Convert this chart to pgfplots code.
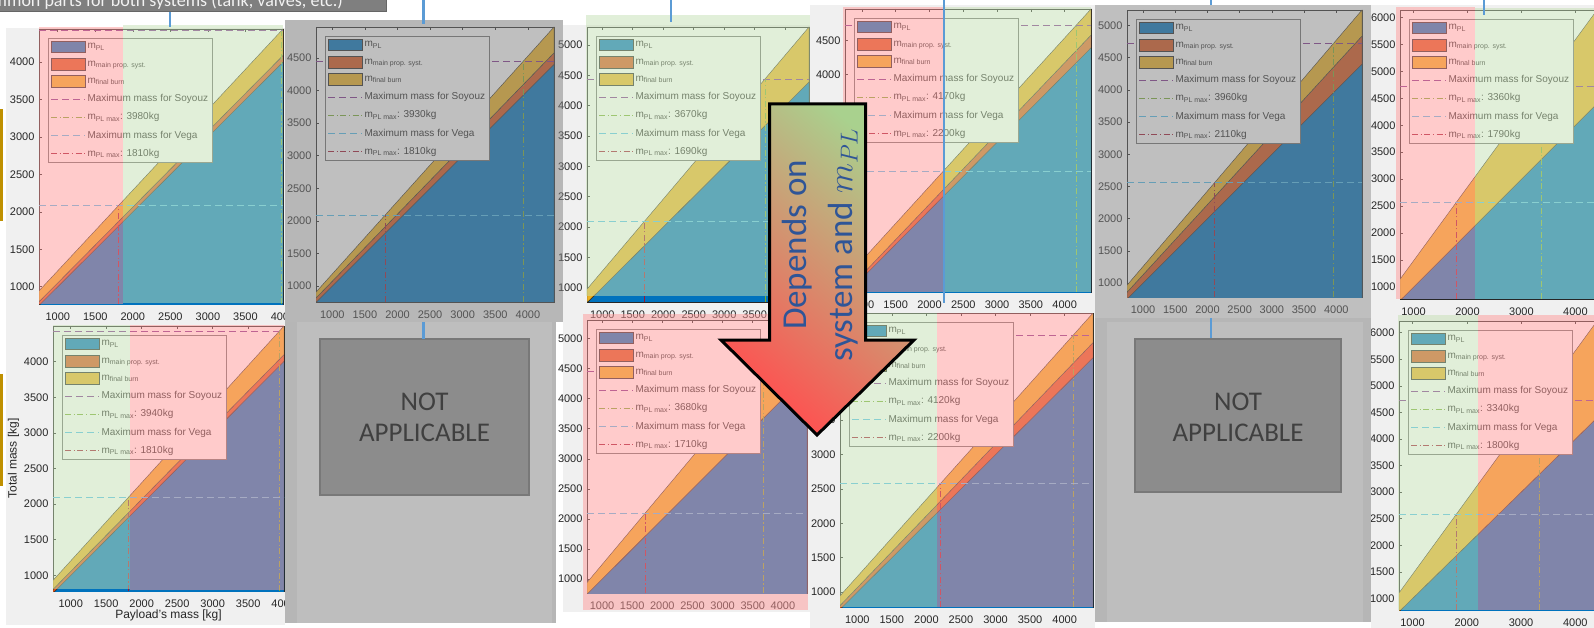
\documentclass[border=0pt]{standalone}
\usepackage{fix-cm}
\usepackage{pgfplots}
\pgfplotsset{compat=1.18}
\usepackage{fontspec}
\setmainfont{Liberation Sans}
\newfontfamily\calibri{Carlito}
\definecolor{cPL}{RGB}{0,114,189}
\definecolor{cMain}{RGB}{217,83,25}
\definecolor{cBurn}{RGB}{237,177,32}
\definecolor{cSoy}{RGB}{126,47,142}
\definecolor{cSoyM}{RGB}{119,172,48}
\definecolor{cVega}{RGB}{77,190,238}
\definecolor{cVegaM}{RGB}{162,20,47}
\definecolor{axgray}{RGB}{38,38,38}
\definecolor{leggray}{RGB}{110,110,110}
\definecolor{figbg}{RGB}{240,240,240}
\definecolor{ovPink}{RGB}{255,153,153}
\definecolor{ovGreen}{RGB}{197,224,180}
\definecolor{ovGray}{RGB}{128,128,128}
\definecolor{conn}{RGB}{91,155,213}
\definecolor{gold}{RGB}{191,144,0}
\definecolor{arrowBlue}{RGB}{47,85,151}
\definecolor{arrowG}{RGB}{169,209,142}
\definecolor{arrowR}{RGB}{255,80,80}
\definecolor{naFill}{RGB}{140,140,140}
\definecolor{naEdge}{RGB}{120,120,120}
\definecolor{naText}{RGB}{64,64,64}
\definecolor{colOuter}{RGB}{182,182,182}
\definecolor{colInner}{RGB}{190,190,190}
\definecolor{boxGray}{RGB}{127,127,127}
\pgfplotsset{
  mypatch/.style={legend image code/.code={\draw[##1] (0pt,-5.8pt) rectangle (34pt,5.8pt);}},
  myline/.style={legend image code/.code={\draw[##1] (0pt,0pt) -- (34pt,0pt);}},
  aPL/.style={fill=cPL, draw=black!85, line width=0.4pt, mypatch},
  aMain/.style={fill=cMain, draw=black!85, line width=0.4pt, mypatch},
  aBurn/.style={fill=cBurn, draw=black!85, line width=0.4pt, mypatch},
  lSoy/.style={cSoy, line width=0.7pt, dash pattern=on 7pt off 4pt, myline},
  lSoyM/.style={cSoyM, line width=0.7pt, dash pattern=on 6pt off 2.5pt on 1.2pt off 2.5pt, myline},
  lVega/.style={cVega, line width=0.7pt, dash pattern=on 7pt off 4pt, myline},
  lVegaM/.style={cVegaM, line width=0.7pt, dash pattern=on 6pt off 2.5pt on 1.2pt off 2.5pt, myline},
  panel/.style={
    scale only axis, anchor=north west,
    axis background/.style={fill=white},
    axis line style={draw=axgray, line width=0.6pt},
    tick style={draw=axgray, line width=0.6pt},
    tick align=inside, major tick length=3pt,
    ticklabel style={font=\fontsize{11}{13}\selectfont, text=axgray},
    xticklabel style={yshift=-5pt},
    yticklabel style={xshift=-1pt},
    /pgf/number format/assume math mode=true,
    /pgf/number format/1000 sep={},
    scaled ticks=false,
    legend cell align=left,
    legend style={at={(0,1)}, anchor=north west, xshift=9pt, yshift=-9pt,
      draw=leggray, fill=white, line width=0.6pt,
      font=\fontsize{10}{12}\selectfont, text=axgray, row sep=5.3pt, inner sep=2.5pt},
  }
}
\begin{document}
\begin{tikzpicture}
\useasboundingbox (0,0) rectangle (1594pt,-628pt);
\begin{scope}[x=1pt,y=-1pt]
\fill[white] (0,0) rectangle (1594,628);
\fill[figbg] (6,28) rectangle (285,625);
\fill[figbg] (563,25) rectangle (810,612);
\fill[figbg] (810,5) rectangle (1095,628);
\fill[figbg] (1371,5) rectangle (1594,628);
\end{scope}

% ---------- P1 ----------
\begin{axis}[panel, at={(39pt,-29pt)}, width=244pt, height=275pt,
  xmin=750, xmax=4000, ymin=769, ymax=4441,
  xtick={1000,1500,...,4000}, ytick={1000,1500,...,4000}]
\addplot[aPL] coordinates {(750,0) (4000,0) (4000,4000) (750,750)} -- cycle;
\addlegendentry{m\textsubscript{PL}}
\addplot[aMain] coordinates {(750,750) (4000,4000) (4000,4088) (750,799)} -- cycle;
\addlegendentry{m\textsubscript{main prop. syst.}}
\addplot[aBurn] coordinates {(750,799) (4000,4088) (4000,4441) (750,944)} -- cycle;
\addlegendentry{m\textsubscript{final burn}}
\addplot[lSoy] coordinates {(750,4420) (4000,4420)};
\addlegendentry{Maximum mass for Soyouz}
\addplot[lSoyM] coordinates {(3980,769) (3980,4420)};
\addlegendentry{m\textsubscript{PL max}: 3980kg}
\addplot[lVega] coordinates {(750,2085) (4000,2085)};
\addlegendentry{Maximum mass for Vega}
\addplot[lVegaM] coordinates {(1810,769) (1810,2085)};
\addlegendentry{m\textsubscript{PL max}: 1810kg}
\end{axis}

% ---------- P7 ----------
\begin{axis}[panel, at={(53pt,-326pt)}, width=231pt, height=265pt,
  xmin=750, xmax=4005, ymin=781, ymax=4500,
  xtick={1000,1500,...,4000}, ytick={1000,1500,...,4000},
  xlabel={Payload's mass [kg]}, ylabel={Total mass [kg]},
  label style={font=\fontsize{12}{14}\selectfont, text=axgray},
  xlabel style={yshift=4pt}, ylabel style={yshift=-2pt}]
\addplot[aPL] coordinates {(750,0) (4005,0) (4005,4005) (750,750)} -- cycle;
\addlegendentry{m\textsubscript{PL}}
\addplot[aMain] coordinates {(750,750) (4005,4005) (4005,4098) (750,804)} -- cycle;
\addlegendentry{m\textsubscript{main prop. syst.}}
\addplot[aBurn] coordinates {(750,804) (4005,4098) (4005,4500) (750,930)} -- cycle;
\addlegendentry{m\textsubscript{final burn}}
\addplot[lSoy] coordinates {(750,4428) (4005,4428)};
\addlegendentry{Maximum mass for Soyouz}
\addplot[lSoyM] coordinates {(3940,781) (3940,4428)};
\addlegendentry{m\textsubscript{PL max}: 3940kg}
\addplot[lVega] coordinates {(750,2092) (4005,2092)};
\addlegendentry{Maximum mass for Vega}
\addplot[lVegaM] coordinates {(1810,781) (1810,2092)};
\addlegendentry{m\textsubscript{PL max}: 1810kg}
\end{axis}

\begin{scope}[x=1pt,y=-1pt]
\fill[figbg] (285,20) rectangle (563,322);
\end{scope}

% ---------- P2 ----------
\begin{axis}[panel, at={(316pt,-27pt)}, width=238pt, height=275pt,
  xmin=750, xmax=4400, ymin=755, ymax=4974,
  xtick={1000,1500,...,4000}, ytick={1000,1500,...,4500}]
\addplot[aPL] coordinates {(750,0) (4400,0) (4400,4400) (750,750)} -- cycle;
\addlegendentry{m\textsubscript{PL}}
\addplot[aMain] coordinates {(750,750) (4400,4400) (4400,4577) (750,817)} -- cycle;
\addlegendentry{m\textsubscript{main prop. syst.}}
\addplot[aBurn] coordinates {(750,817) (4400,4577) (4400,4974) (750,907)} -- cycle;
\addlegendentry{m\textsubscript{final burn}}
\addplot[lSoy] coordinates {(750,4450) (4400,4450)};
\addlegendentry{Maximum mass for Soyouz}
\addplot[lSoyM] coordinates {(3930,755) (3930,4450)};
\addlegendentry{m\textsubscript{PL max}: 3930kg}
\addplot[lVega] coordinates {(750,2088) (4400,2088)};
\addlegendentry{Maximum mass for Vega}
\addplot[lVegaM] coordinates {(1810,755) (1810,2088)};
\addlegendentry{m\textsubscript{PL max}: 1810kg}
\end{axis}

% ---------- P3 ----------
\begin{axis}[panel, at={(587pt,-27pt)}, width=222pt, height=275pt,
  xmin=750, xmax=4390, ymin=762, ymax=5295,
  xtick={1000,1500,...,4000}, ytick={1000,1500,...,5000}]
\addplot[aPL] coordinates {(750,0) (4390,0) (4390,4390) (750,750)} -- cycle;
\addlegendentry{m\textsubscript{PL}}
\addplot[aMain] coordinates {(750,750) (4390,4390) (4390,4390) (750,750)} -- cycle;
\addlegendentry{m\textsubscript{main prop. syst.}}
\addplot[aBurn] coordinates {(750,750) (4390,4390) (4390,5295) (750,974)} -- cycle;
\addlegendentry{m\textsubscript{final burn}}
\addplot[lSoy] coordinates {(750,4440) (4390,4440)};
\addlegendentry{Maximum mass for Soyouz}
\addplot[lSoyM] coordinates {(3670,762) (3670,4440)};
\addlegendentry{m\textsubscript{PL max}: 3670kg}
\addplot[lVega] coordinates {(750,2090) (4390,2090)};
\addlegendentry{Maximum mass for Vega}
\addplot[lVegaM] coordinates {(1690,762) (1690,2090)};
\addlegendentry{m\textsubscript{PL max}: 1690kg}
\end{axis}

% ---------- P4 ----------
\begin{axis}[panel, at={(845pt,-9pt)}, width=246pt, height=283pt,
  xmin=750, xmax=4390, ymin=798, ymax=4960,
  xtick={1000,1500,...,4000}, ytick={1000,1500,...,4500}]
\addplot[aPL] coordinates {(750,0) (4390,0) (4390,4390) (750,750)} -- cycle;
\addlegendentry{m\textsubscript{PL}}
\addplot[aMain] coordinates {(750,750) (4390,4390) (4390,4576) (750,790)} -- cycle;
\addlegendentry{m\textsubscript{main prop. syst.}}
\addplot[aBurn] coordinates {(750,790) (4390,4576) (4390,4960) (750,988)} -- cycle;
\addlegendentry{m\textsubscript{final burn}}
\addplot[lSoy] coordinates {(750,4720) (4390,4720)};
\addlegendentry{Maximum mass for Soyouz}
\addplot[lSoyM] coordinates {(4170,798) (4170,4720)};
\addlegendentry{m\textsubscript{PL max}: 4170kg}
\addplot[lVega] coordinates {(750,2575) (4390,2575)};
\addlegendentry{Maximum mass for Vega}
\addplot[lVegaM] coordinates {(2200,798) (2200,2575)};
\addlegendentry{m\textsubscript{PL max}: 2200kg}
\end{axis}

% ---------- P5 ----------
\begin{axis}[panel, at={(1127pt,-10pt)}, width=235pt, height=287pt,
  xmin=750, xmax=4400, ymin=783, ymax=5240,
  xtick={1000,1500,...,4000}, ytick={1000,1500,...,5000}]
\addplot[aPL] coordinates {(750,0) (4400,0) (4400,4400) (750,750)} -- cycle;
\addlegendentry{m\textsubscript{PL}}
\addplot[aMain] coordinates {(750,750) (4400,4400) (4400,4836) (750,857)} -- cycle;
\addlegendentry{m\textsubscript{main prop. syst.}}
\addplot[aBurn] coordinates {(750,857) (4400,4836) (4400,5240) (750,966)} -- cycle;
\addlegendentry{m\textsubscript{final burn}}
\addplot[lSoy] coordinates {(750,4725) (4400,4725)};
\addlegendentry{Maximum mass for Soyouz}
\addplot[lSoyM] coordinates {(3960,783) (3960,4725)};
\addlegendentry{m\textsubscript{PL max}: 3960kg}
\addplot[lVega] coordinates {(750,2559) (4400,2559)};
\addlegendentry{Maximum mass for Vega}
\addplot[lVegaM] coordinates {(2110,783) (2110,2559)};
\addlegendentry{m\textsubscript{PL max}: 2110kg}
\end{axis}

% ---------- P6 ----------
\begin{axis}[panel, at={(1400pt,-10pt)}, width=197pt, height=289pt,
  xmin=750, xmax=4400, ymin=778, ymax=6137,
  xtick={1000,2000,3000,4000}, ytick={1000,1500,...,6000}]
\addplot[aPL] coordinates {(750,0) (4400,0) (4400,4400) (750,750)} -- cycle;
\addlegendentry{m\textsubscript{PL}}
\addplot[aMain] coordinates {(750,750) (4400,4400) (4400,4400) (750,750)} -- cycle;
\addlegendentry{m\textsubscript{main prop. syst.}}
\addplot[aBurn] coordinates {(750,750) (4400,4400) (4400,6137) (750,1144)} -- cycle;
\addlegendentry{m\textsubscript{final burn}}
\addplot[lSoy] coordinates {(750,4714) (4400,4714)};
\addlegendentry{Maximum mass for Soyouz}
\addplot[lSoyM] coordinates {(3360,778) (3360,4714)};
\addlegendentry{m\textsubscript{PL max}: 3360kg}
\addplot[lVega] coordinates {(750,2567) (4400,2567)};
\addlegendentry{Maximum mass for Vega}
\addplot[lVegaM] coordinates {(1790,778) (1790,2567)};
\addlegendentry{m\textsubscript{PL max}: 1790kg}
\end{axis}

% ---------- P9 ----------
\begin{axis}[panel, at={(587pt,-320pt)}, width=220pt, height=273pt,
  xmin=750, xmax=4400, ymin=769, ymax=5308,
  xtick={1000,1500,...,4000}, ytick={1000,1500,...,5000}]
\addplot[aPL] coordinates {(750,0) (4400,0) (4400,4400) (750,750)} -- cycle;
\addlegendentry{m\textsubscript{PL}}
\addplot[aMain] coordinates {(750,750) (4400,4400) (4400,4400) (750,750)} -- cycle;
\addlegendentry{m\textsubscript{main prop. syst.}}
\addplot[aBurn] coordinates {(750,750) (4400,4400) (4400,5308) (750,943)} -- cycle;
\addlegendentry{m\textsubscript{final burn}}
\addplot[lSoy] coordinates {(750,4447) (4400,4447)};
\addlegendentry{Maximum mass for Soyouz}
\addplot[lSoyM] coordinates {(3680,769) (3680,4447)};
\addlegendentry{m\textsubscript{PL max}: 3680kg}
\addplot[lVega] coordinates {(750,2091) (4400,2091)};
\addlegendentry{Maximum mass for Vega}
\addplot[lVegaM] coordinates {(1710,769) (1710,2091)};
\addlegendentry{m\textsubscript{PL max}: 1710kg}
\end{axis}

% ---------- P10 ----------
\begin{axis}[panel, at={(840pt,-313pt)}, width=253pt, height=294pt,
  xmin=750, xmax=4410, ymin=783, ymax=5059,
  xtick={1000,1500,...,4000}, ytick={1000,1500,...,5000}]
\addplot[aPL] coordinates {(750,0) (4410,0) (4410,4410) (750,750)} -- cycle;
\addlegendentry{m\textsubscript{PL}}
\addplot[aMain] coordinates {(750,750) (4410,4410) (4410,4628) (750,804)} -- cycle;
\addlegendentry{m\textsubscript{main prop. syst.}}
\addplot[aBurn] coordinates {(750,804) (4410,4628) (4410,5059) (750,945)} -- cycle;
\addlegendentry{m\textsubscript{final burn}}
\addplot[lSoy] coordinates {(750,4733) (4410,4733)};
\addlegendentry{Maximum mass for Soyouz}
\addplot[lSoyM] coordinates {(4120,783) (4120,4733)};
\addlegendentry{m\textsubscript{PL max}: 4120kg}
\addplot[lVega] coordinates {(750,2575) (4410,2575)};
\addlegendentry{Maximum mass for Vega}
\addplot[lVegaM] coordinates {(2200,783) (2200,2575)};
\addlegendentry{m\textsubscript{PL max}: 2200kg}
\end{axis}

% ---------- P12 ----------
\begin{axis}[panel, at={(1399pt,-321pt)}, width=198pt, height=289pt,
  xmin=750, xmax=4400, ymin=781, ymax=6222,
  xtick={1000,2000,3000,4000}, ytick={1000,1500,...,6000}]
\addplot[aPL] coordinates {(750,0) (4400,0) (4400,4400) (750,750)} -- cycle;
\addlegendentry{m\textsubscript{PL}}
\addplot[aMain] coordinates {(750,750) (4400,4400) (4400,4400) (750,750)} -- cycle;
\addlegendentry{m\textsubscript{main prop. syst.}}
\addplot[aBurn] coordinates {(750,750) (4400,4400) (4400,6222) (750,1103)} -- cycle;
\addlegendentry{m\textsubscript{final burn}}
\addplot[lSoy] coordinates {(750,4736) (4400,4736)};
\addlegendentry{Maximum mass for Soyouz}
\addplot[lSoyM] coordinates {(3340,781) (3340,4736)};
\addlegendentry{m\textsubscript{PL max}: 3340kg}
\addplot[lVega] coordinates {(750,2576) (4400,2576)};
\addlegendentry{Maximum mass for Vega}
\addplot[lVegaM] coordinates {(1800,781) (1800,2576)};
\addlegendentry{m\textsubscript{PL max}: 1800kg}
\end{axis}

\begin{scope}[x=1pt,y=-1pt]
% colour overlays
\fill[ovPink, opacity=0.5] (39,27) rectangle (123,304);
\fill[ovGreen, opacity=0.5] (123,25) rectangle (283,303);
\fill[ovGreen, opacity=0.5] (586,15) rectangle (810,296);
\fill[ovPink, opacity=0.5] (843,7) rectangle (943,292);
\fill[ovGreen, opacity=0.5] (943,7) rectangle (1091,292);
\fill[ovPink, opacity=0.5] (1396,7) rectangle (1475,299);
\fill[ovGreen, opacity=0.5] (1475,8) rectangle (1594,299);
\fill[ovGreen, opacity=0.5] (53,325) rectangle (130,589);
\fill[ovPink, opacity=0.5] (130,325) rectangle (284,590);
\fill[ovPink, opacity=0.5] (583,314) rectangle (808,610);
\fill[ovGreen, opacity=0.5] (840,313) rectangle (937,607);
\fill[ovPink, opacity=0.5] (937,313) rectangle (1093,607);
\fill[ovGreen, opacity=0.5] (1398,315) rectangle (1478,610);
\fill[ovPink, opacity=0.5] (1478,315) rectangle (1594,610);
\fill[ovGray, opacity=0.5] (285,20) rectangle (563,322);
\fill[ovGray, opacity=0.5] (1095,5) rectangle (1371,318);
% not applicable panels
\fill[colOuter] (285,322) rectangle (556,623);
\fill[colInner] (297,322) rectangle (552,623);
\fill[colOuter] (1095,318) rectangle (1371,622);
\fill[colInner] (1107,322) rectangle (1363,622);
\draw[naEdge, fill=naFill, line width=2pt] (320,339) rectangle (529,495);
\draw[naEdge, fill=naFill, line width=2pt] (1135,339) rectangle (1341,492);
\foreach \cx in {424.5,1238} {
  \node[font=\calibri\fontsize{27}{31}\selectfont, text=black!45, align=center, opacity=0.6] at (\cx+1.5,418.5) {NOT\\APPLICABLE};
  \node[font=\calibri\fontsize{27}{31}\selectfont, text=naText, align=center] at (\cx,417) {NOT\\APPLICABLE};
}
% connectors
\draw[conn, line width=2.5pt] (170,10) -- (170,27);
\draw[conn, line width=2.5pt] (423.5,0) -- (423.5,24);
\draw[conn, line width=2.5pt] (671,0) -- (671,22);
\draw[conn, line width=2.5pt] (944,0) -- (944,303);
\draw[conn, line width=2.5pt] (1211,0) -- (1211,5);
\draw[conn, line width=2.5pt] (1484,0) -- (1484,15);
\draw[conn, line width=2.5pt] (423.5,322) -- (423.5,339);
\draw[conn, line width=2.5pt] (1211,318) -- (1211,338);
% gold brackets
\draw[gold, line width=2.5pt] (-6,110) rectangle (1.5,220);
\draw[gold, line width=2.5pt] (-6,375) rectangle (1.5,485);
% top text box
\draw[fill=boxGray, draw=black!60, line width=1pt] (-5,-20) rectangle (386,11.5);
\node[anchor=base east, inner sep=0pt, font=\calibri\fontsize{18}{21}\selectfont, text=white!95!black] at (343,7) {Common parts for both systems (tank, valves, etc.)};
% arrow
\shade[top color=arrowG, middle color=white, bottom color=arrowR, shading angle=-40]
  (769.5,104) -- (865.5,104) -- (865.5,340) -- (914,340) -- (817,435) -- (721,340) -- (769.5,340) -- cycle;
\draw[black, line width=3pt, line join=miter]
  (769.5,104) -- (865.5,104) -- (865.5,340) -- (914,340) -- (817,435) -- (721,340) -- (769.5,340) -- cycle;
\node[rotate=90, align=center, font=\calibri\fontsize{35}{46}\selectfont, text=arrowBlue] at (820,245) {Depends on\\system and $m_{PL}$};
\end{scope}
\end{tikzpicture}
\end{document}
